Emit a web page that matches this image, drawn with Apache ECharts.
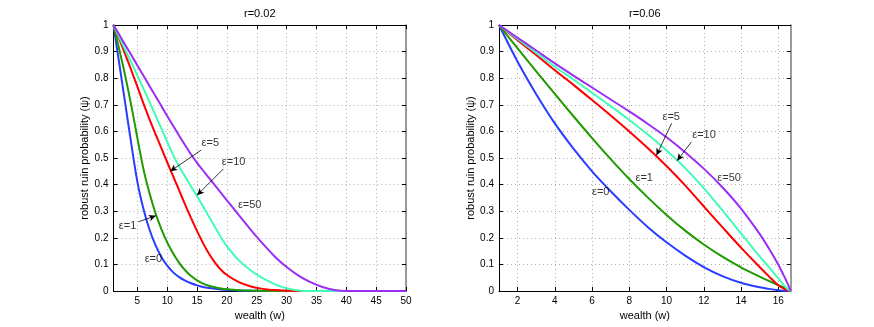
<!DOCTYPE html>
<html>
<head>
<meta charset="utf-8">
<script src="https://cdn.jsdelivr.net/npm/echarts@6/dist/echarts.min.js"></script>
<style>
html, body { margin: 0; padding: 0; background: #fff; }
#chartmain { width: 874px; height: 327px; }
</style>
</head>
<body>
<div id="chartmain"></div>
<script>
// r=0.02 panel
var wealthL = [1, 2, 3, 4, 5, 6, 7, 8, 9, 10, 11, 12, 13, 14, 15, 16, 17, 18, 19, 20, 22, 24, 26, 28, 30, 32, 34, 36, 38, 40, 45, 50];
var eps0L = [1, 0.85, 0.7, 0.55, 0.41, 0.31, 0.233, 0.174, 0.129, 0.095, 0.07, 0.052, 0.039, 0.029, 0.021, 0.015, 0.011, 0.008, 0.0055, 0.004, 0.002, 0.001, 0.0004, 0.0002, 0.0001, 0, 0, 0, 0, 0, 0, 0];
var eps1L = [1, 0.905, 0.805, 0.695, 0.575, 0.46, 0.37, 0.295, 0.234, 0.183, 0.141, 0.106, 0.078, 0.056, 0.04, 0.028, 0.02, 0.014, 0.0095, 0.0065, 0.003, 0.0014, 0.0006, 0.0002, 0.0001, 0, 0, 0, 0, 0, 0, 0];
var eps5L = [1, 0.945, 0.888, 0.829, 0.768, 0.706, 0.647, 0.592, 0.538, 0.484, 0.431, 0.378, 0.325, 0.274, 0.225, 0.18, 0.14, 0.107, 0.08, 0.06, 0.033, 0.017, 0.008, 0.0035, 0.0012, 0.0003, 0, 0, 0, 0, 0, 0];
var eps10L = [1, 0.952, 0.905, 0.858, 0.81, 0.762, 0.712, 0.662, 0.612, 0.561, 0.511, 0.468, 0.43, 0.393, 0.356, 0.318, 0.279, 0.24, 0.202, 0.168, 0.115, 0.077, 0.048, 0.026, 0.01, 0.002, 0, 0, 0, 0, 0, 0];
var eps50L = [1, 0.962, 0.924, 0.886, 0.848, 0.81, 0.772, 0.734, 0.696, 0.658, 0.621, 0.584, 0.548, 0.513, 0.482, 0.453, 0.425, 0.397, 0.369, 0.341, 0.285, 0.23, 0.178, 0.13, 0.09, 0.058, 0.033, 0.015, 0.004, 0, 0, 0];
var ticksL = [5, 10, 15, 20, 25, 30, 35, 40, 45, 50];

// r=0.06 panel
var wealthR = [1, 2, 3, 4, 5, 6, 7, 8, 9, 10, 11, 12, 13, 14, 15, 15.5, 16, 16.3, 16.5, 16.67];
var eps0R = [1, 0.862, 0.74, 0.63, 0.535, 0.45, 0.375, 0.305, 0.24, 0.183, 0.133, 0.09, 0.056, 0.031, 0.014, 0.008, 0.003, 0.0012, 0.0004, 0];
var eps1R = [1, 0.912, 0.826, 0.741, 0.657, 0.575, 0.496, 0.421, 0.351, 0.286, 0.227, 0.175, 0.129, 0.089, 0.054, 0.038, 0.022, 0.013, 0.006, 0];
var eps5R = [1, 0.943, 0.887, 0.83, 0.775, 0.718, 0.66, 0.6, 0.537, 0.47, 0.397, 0.318, 0.24, 0.163, 0.09, 0.055, 0.022, 0.009, 0.003, 0];
var eps10R = [1, 0.948, 0.895, 0.843, 0.795, 0.745, 0.695, 0.643, 0.588, 0.528, 0.462, 0.387, 0.303, 0.217, 0.13, 0.09, 0.048, 0.022, 0.008, 0];
var eps50R = [1, 0.952, 0.904, 0.856, 0.81, 0.765, 0.72, 0.675, 0.628, 0.578, 0.522, 0.46, 0.39, 0.31, 0.215, 0.16, 0.1, 0.058, 0.029, 0];
var ticksR = [2, 4, 6, 8, 10, 12, 14, 16];

var colors = ['#2a3cff', '#1f9a00', '#ff0000', '#40fcb4', '#9a2ef5'];

// annotations: [text, wealth, psi]
var labelsL = [['ε=0', 7.77, 0.117], ['ε=1', 3.44, 0.244], ['ε=5', 17.3, 0.555], ['ε=10', 21.2, 0.484], ['ε=50', 23.9, 0.32]];
var arrowsL = [[5.17, 0.26, 8.1, 0.283], [15.7, 0.53, 10.5, 0.45], [19.4, 0.459, 15.0, 0.36]];
var labelsR = [['ε=0', 6.49, 0.37], ['ε=1', 8.83, 0.424], ['ε=5', 10.28, 0.653], ['ε=10', 12.04, 0.584], ['ε=50', 13.39, 0.424]];
var arrowsR = [[10.27, 0.63, 9.46, 0.51], [11.34, 0.561, 10.57, 0.49]];

var font = 'Liberation Sans';

function pairs(xs, ys) {
    return xs.map(function (x, i) { return [x, ys[i]]; });
}

function curve(xs, ys, idx, c) {
    return {
        type: 'line', xAxisIndex: idx, yAxisIndex: idx,
        data: pairs(xs, ys), showSymbol: false, symbol: 'none',
        smooth: 0.3,
        lineStyle: { color: c, width: 2 }, z: 3
    };
}

function notes(labels, arrows, idx) {
    return {
        type: 'scatter', xAxisIndex: idx, yAxisIndex: idx,
        symbolSize: 1, itemStyle: { color: 'transparent' }, silent: true,
        data: labels.map(function (l) { return [l[1], l[2], l[0]]; }),
        label: {
            show: true, position: [0, 0], align: 'center', verticalAlign: 'middle',
            color: '#000', fontSize: 11, fontFamily: font,
            formatter: function (p) { return p.value[2]; }
        },
        markLine: {
            silent: true, animation: false, symbol: ['none', 'arrow'], symbolSize: [5, 7],
            label: { show: false },
            lineStyle: { color: '#000', width: 0.8, type: 'solid' },
            data: arrows.map(function (a) { return [{ coord: [a[0], a[1]] }, { coord: [a[2], a[3]] }]; })
        },
        z: 5
    };
}

function bottomAxis(idx, min, max, split, ticks) {
    return {
        gridIndex: idx, type: 'value', position: 'bottom', min: min, max: max, splitNumber: split,
        name: 'wealth (w)', nameLocation: 'middle', nameGap: 15,
        nameTextStyle: { color: '#000', fontSize: 11, fontFamily: font },
        axisLine: { onZero: false, lineStyle: { color: '#000', width: 1 } },
        axisTick: { inside: true, length: 4, customValues: ticks, lineStyle: { color: '#000' } },
        axisLabel: { customValues: ticks, color: '#000', fontSize: 10, fontFamily: font, margin: 5 },
        splitLine: { show: true, lineStyle: { color: '#b0b0b0', type: [1, 3], width: 1 } }
    };
}

function topAxis(idx, min, max, split, ticks, title) {
    return {
        gridIndex: idx, type: 'value', position: 'top', min: min, max: max, splitNumber: split,
        name: title, nameLocation: 'middle', nameGap: 6,
        nameTextStyle: { color: '#000', fontSize: 11, fontFamily: font },
        axisLine: { onZero: false, lineStyle: { color: '#000', width: 1 } },
        axisTick: { inside: true, length: 4, customValues: ticks, lineStyle: { color: '#000' } },
        axisLabel: { show: false },
        splitLine: { show: false }
    };
}

function leftAxis(idx) {
    return {
        gridIndex: idx, type: 'value', position: 'left', min: 0, max: 1, interval: 0.1,
        name: 'robust ruin probability (ψ)', nameLocation: 'middle', nameGap: 21,
        nameTextStyle: { color: '#000', fontSize: 11, fontFamily: font },
        axisLine: { onZero: false, lineStyle: { color: '#000', width: 1 } },
        axisTick: { inside: true, length: 4, lineStyle: { color: '#000' } },
        axisLabel: { color: '#000', fontSize: 10, fontFamily: font, margin: 5 },
        splitLine: { show: true, lineStyle: { color: '#b0b0b0', type: [1, 3], width: 1 } }
    };
}

function rightAxis(idx) {
    return {
        gridIndex: idx, type: 'value', position: 'right', min: 0, max: 1, interval: 0.1,
        axisLine: { onZero: false, lineStyle: { color: '#7a7a7a', width: 1.5 } },
        axisTick: { inside: true, length: 4, lineStyle: { color: '#000' } },
        axisLabel: { show: false },
        splitLine: { show: false }
    };
}

function setChartRuin() {
    var option = {
        animation: false,
        backgroundColor: '#fff',
        textStyle: { fontFamily: font },
        grid: [
            { left: 113.5, top: 25, width: 292.5, height: 266, containLabel: false },
            { left: 499, top: 25, width: 291.7, height: 266, containLabel: false }
        ],
        xAxis: [
            bottomAxis(0, 1, 50, 10, ticksL),
            bottomAxis(1, 1, 16.67, 8, ticksR),
            topAxis(0, 1, 50, 10, ticksL, 'r=0.02'),
            topAxis(1, 1, 16.67, 8, ticksR, 'r=0.06')
        ],
        yAxis: [leftAxis(0), leftAxis(1), rightAxis(0), rightAxis(1)],
        series: [
            curve(wealthL, eps0L, 0, colors[0]),
            curve(wealthL, eps1L, 0, colors[1]),
            curve(wealthL, eps5L, 0, colors[2]),
            curve(wealthL, eps10L, 0, colors[3]),
            curve(wealthL, eps50L, 0, colors[4]),
            notes(labelsL, arrowsL, 0),
            curve(wealthR, eps0R, 1, colors[0]),
            curve(wealthR, eps1R, 1, colors[1]),
            curve(wealthR, eps5R, 1, colors[2]),
            curve(wealthR, eps10R, 1, colors[3]),
            curve(wealthR, eps50R, 1, colors[4]),
            notes(labelsR, arrowsR, 1)
        ]
    };
    var myChart = echarts.init(document.getElementById('chartmain'), null, { renderer: 'canvas' });
    myChart.setOption(option);
}
setChartRuin();
</script>
</body>
</html>
